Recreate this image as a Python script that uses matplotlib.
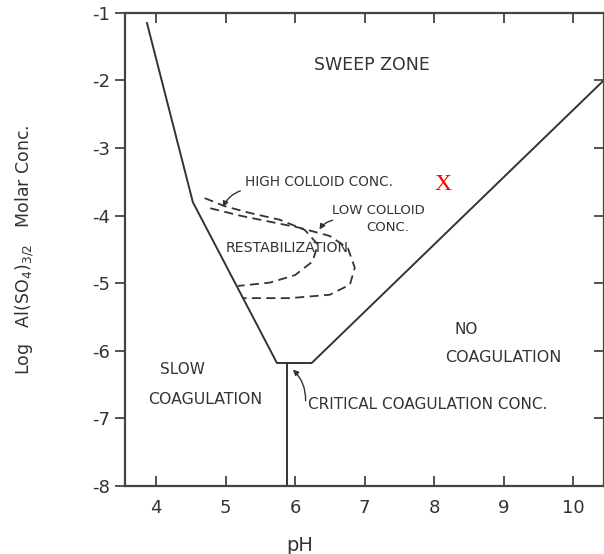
import matplotlib.pyplot as plt

plt.rcParams['axes.unicode_minus'] = False
plt.rcParams['font.family'] = ['DejaVu Sans']

# stability boundary of the coagulation domain
boundary_ph = [3.87, 4.53, 5.74, 6.24, 10.45]
boundary_log = [-1.15, -3.80, -6.18, -6.18, -1.99]

# critical coagulation concentration (vertical drop)
ccc_ph = [5.88, 5.88]
ccc_log = [-8.0, -6.18]

# restabilization zone, high colloid concentration
high_ph = [4.70, 4.99, 5.35, 5.78, 6.14, 6.33, 6.25, 6.00, 5.64, 5.18]
high_log = [-3.74, -3.86, -3.96, -4.06, -4.21, -4.43, -4.68, -4.88, -4.99, -5.04]

# restabilization zone, low colloid concentration
low_ph = [4.78, 5.21, 5.64, 6.07, 6.50, 6.76, 6.86, 6.79, 6.50, 5.93, 5.25]
low_log = [-3.89, -4.00, -4.09, -4.18, -4.30, -4.48, -4.77, -5.02, -5.17, -5.22, -5.22]

x_ticks = [4, 5, 6, 7, 8, 9, 10]
x_ticklabels = ['4', '5', '6', '7', '8', '9', '10']
y_ticks = [-1, -2, -3, -4, -5, -6, -7, -8]
y_ticklabels = ['-1', '-2', '-3', '-4', '-5', '-6', '-7', '-8']

ink = '#333333'

fig = plt.figure(figsize=(6.04, 5.54), dpi=100)
ax = fig.add_axes([0.207, 0.1227, 0.793, 0.854])

ax.plot(boundary_ph, boundary_log, color=ink, lw=1.4)
ax.plot(ccc_ph, ccc_log, color=ink, lw=1.4)
ax.plot(high_ph, high_log, color=ink, lw=1.3, ls=(0, (5, 3)))
ax.plot(low_ph, low_log, color=ink, lw=1.3, ls=(0, (5, 3)))

ax.set_xlim(3.554, 10.446)
ax.set_ylim(-8, -1)

for s in ax.spines.values():
    s.set_color('#444444')
    s.set_linewidth(1.6)

ax.set_xticks(x_ticks)
ax.set_xticklabels(x_ticklabels)
ax.set_yticks(y_ticks)
ax.set_yticklabels(y_ticklabels)
ax.tick_params(axis='x', direction='in', top=True, length=7, width=1.3,
               color='#444444', labelsize=13, pad=9)
ax.tick_params(axis='y', direction='out', length=7, width=1.3,
               color='#444444', labelsize=13, pad=4)
for lab in ax.get_xticklabels() + ax.get_yticklabels():
    lab.set_color('#333333')

# inward ticks on the right edge
sec = ax.secondary_yaxis('right')
sec.set_yticks([-2, -3, -4, -5, -6, -7])
sec.tick_params(direction='in', length=7, width=1.3, color='#444444',
                labelright=False)
sec.spines['right'].set_visible(False)

ax.set_xlabel('pH', fontsize=14, color=ink)
ax.xaxis.set_label_coords(0.365, -0.105)
ax.set_ylabel(r'Log   Al(SO$_4$)$_{3/2}$   Molar Conc.', fontsize=12.5, color=ink)
ax.yaxis.set_label_coords(-0.185, 0.50)

ax.text(7.11, -1.77, 'SWEEP ZONE', ha='center', va='center', color=ink, fontsize=12.5)
ax.text(5.28, -3.50, 'HIGH COLLOID CONC.', ha='left', va='center', color=ink, fontsize=9.8)
ax.text(6.53, -3.93, 'LOW COLLOID', ha='left', va='center', color=ink, fontsize=9.5)
ax.text(7.34, -4.17, 'CONC.', ha='center', va='center', color=ink, fontsize=9.5)
ax.text(5.88, -4.48, 'RESTABILIZATION', ha='center', va='center', color=ink, fontsize=10.2)
ax.text(8.30, -5.69, 'NO', ha='left', va='center', color=ink, fontsize=11)
ax.text(8.99, -6.10, 'COAGULATION', ha='center', va='center', color=ink, fontsize=11.5)
ax.text(4.06, -6.28, 'SLOW', ha='left', va='center', color=ink, fontsize=11)
ax.text(3.88, -6.72, 'COAGULATION', ha='left', va='center', color=ink, fontsize=11.3)
ax.text(6.19, -6.80, 'CRITICAL COAGULATION CONC.', ha='left', va='center', color=ink, fontsize=11)

# leaders from the labels to their curves
arrow = dict(arrowstyle='-|>', color=ink, lw=1.0, mutation_scale=8,
             connectionstyle='arc3,rad=0.25')
ax.annotate('', xy=(4.95, -3.91), xytext=(5.25, -3.62), arrowprops=arrow)
ax.annotate('', xy=(6.33, -4.24), xytext=(6.58, -4.06), arrowprops=arrow)
ax.annotate('', xy=(5.94, -6.25), xytext=(6.15, -6.78), arrowprops=arrow)

ax.text(8.13, -3.54, 'X', ha='center', va='center', color='red',
        fontsize=17, family='Liberation Serif')

fig.savefig('out.png', dpi=100)
